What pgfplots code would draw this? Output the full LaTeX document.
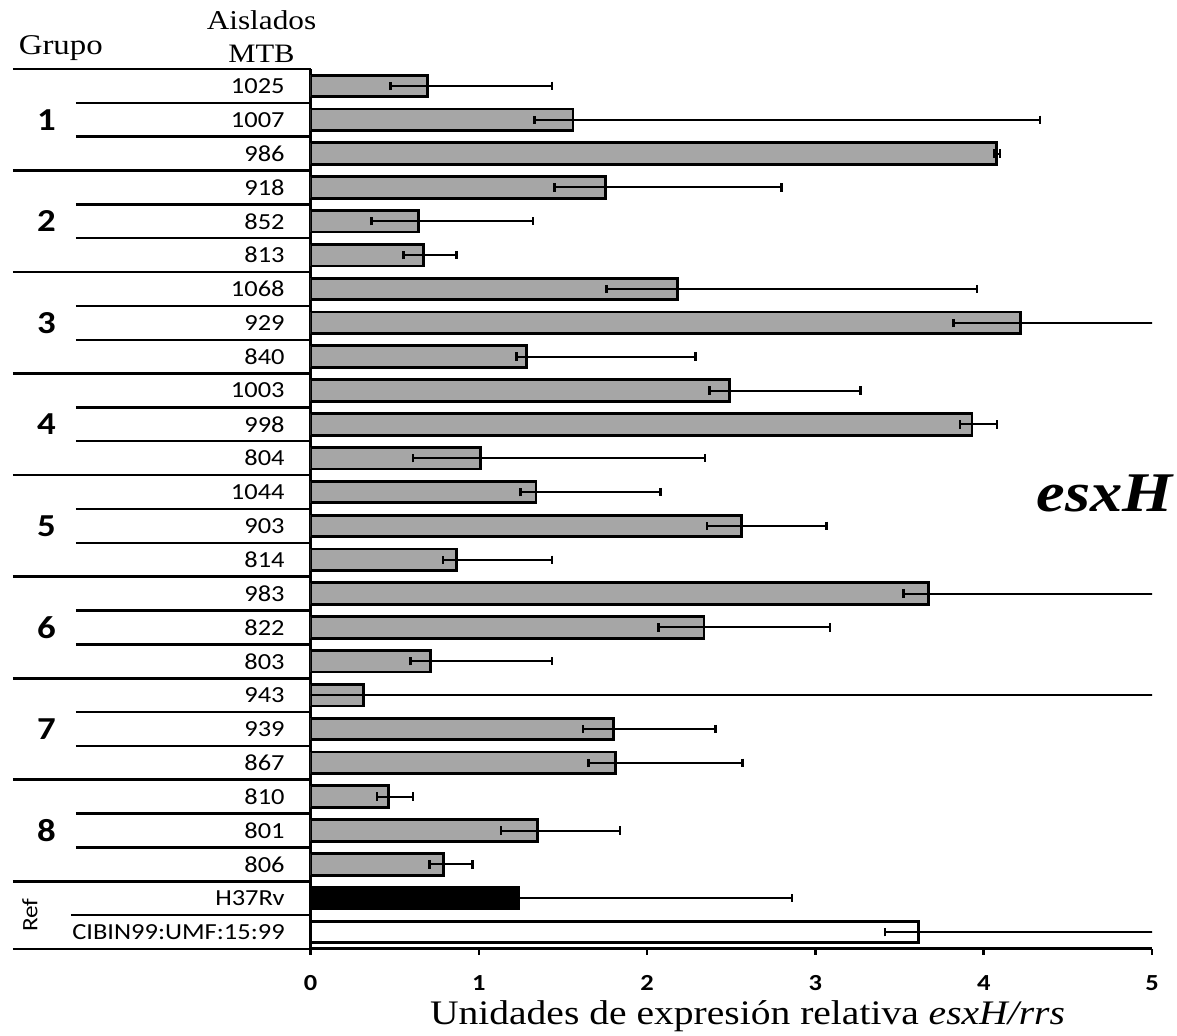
\documentclass[border=0pt]{standalone}
\usepackage{fontspec}
\setmainfont{Liberation Serif}[FakeStretch=1.15]
\newfontfamily\calfont{Carlito}[FakeStretch=1.15]
\usepackage{pgfplots}
\usepackage{pgfplotstable}
\pgfplotsset{compat=1.18}
\definecolor{barg}{HTML}{A6A6A6}

\pgfplotstableread{
y x p m
25 0.697 0.738 0.221
24 1.560 2.774 0.228
23 4.077 0.019 0.017
22 1.754 1.046 0.303
21 0.644 0.678 0.283
20 0.672 0.194 0.119
19 2.180 1.780 0.422
18 4.220 1.500 0.400
17 1.284 1.005 0.061
16 2.490 0.778 0.118
15 3.930 0.150 0.072
14 1.009 1.336 0.401
13 1.340 0.740 0.093
12 2.560 0.506 0.204
11 0.866 0.569 0.079
10 3.672 1.600 0.147
9 2.338 0.748 0.269
8 0.713 0.722 0.118
7 0.315 5.200 0.600
6 1.800 0.608 0.180
5 1.813 0.754 0.162
4 0.464 0.144 0.070
3 1.351 0.489 0.218
2 0.791 0.170 0.083
}\grupos
\pgfplotstableread{
y x p m
1 1.238 1.622 0.240
}\hrv
\pgfplotstableread{
y x p m
0 3.613 1.600 0.200
}\cibin

\def\rh{16.923}
\begin{document}
\begin{tikzpicture}
\begin{axis}[
  at={(0,0)}, anchor=south west,
  scale only axis, width=420.75pt, height=440pt,
  xmin=0, xmax=5, ymin=-0.5, ymax=25.5,
  axis x line=bottom, axis y line=left,
  axis line style={-, line width=1.5pt},
  xtick={0,1,2,3,4,5}, ytick=\empty,
  tick align=outside, major tick length=3pt,
  x tick style={line width=1.3pt, black},
  /pgf/number format/assume math mode=true,
  xticklabel style={font=\calfont\bfseries\fontsize{11.5}{13}\selectfont, anchor=base, inner sep=0pt, yshift=-18pt},
  xbar, bar width=10.8pt, bar shift=0pt,
  error bars/error mark=|,
  error bars/error bar style={line width=1pt, black, solid},
  error bars/error mark options={line width=1.3pt, mark size=2.1pt, black},
]
\addplot[fill=barg, draw=black, line width=1.4pt,
  error bars/.cd, x dir=both, x explicit]
  table[x=x, y=y, x error plus=p, x error minus=m]{\grupos};
\addplot[fill=black, draw=black, line width=1.4pt,
  error bars/.cd, x dir=both, x explicit]
  table[x=x, y=y, x error plus=p, x error minus=m]{\hrv};
\addplot[fill=white, draw=black, line width=1.4pt,
  error bars/.cd, x dir=both, x explicit]
  table[x=x, y=y, x error plus=p, x error minus=m]{\cibin};
\end{axis}

% table lines
\foreach \k in {26,23,20,17,14,11,8,5,2,0}
  \draw[line width=1.35pt] (-148.75pt,{\k*\rh pt}) -- (0pt,{\k*\rh pt});
\foreach \k in {25,24,22,21,19,18,16,15,13,12,10,9,7,6,4,3}
  \draw[line width=1.2pt] (-117.25pt,{\k*\rh pt}) -- (0pt,{\k*\rh pt});
\draw[line width=1.2pt] (-119.75pt,{\rh pt}) -- (0pt,{\rh pt});

% isolate labels
\foreach \r/\lab in {25/1025,24/1007,23/986,22/918,21/852,20/813,19/1068,18/929,17/840,16/1003,15/998,14/804,13/1044,12/903,11/814,10/983,9/822,8/803,7/943,6/939,5/867,4/810,3/801,2/806,1/H37Rv,0/CIBIN99:UMF:15:99}
  \node[anchor=east, inner sep=0pt, font=\calfont\fontsize{11.5}{13}\selectfont] at (-12.75pt,{(\r+0.5)*\rh pt}) {\lab};

% group numbers
\foreach \g in {1,...,8}
  \node[inner sep=0pt, font=\calfont\bfseries\fontsize{16}{18}\selectfont] at (-132pt,{(24.5-3*(\g-1))*\rh pt}) {\g};
\node[rotate=90, inner sep=0pt, font=\calfont\fontsize{11}{13}\selectfont] at (-140.25pt,{\rh pt}) {Ref};

% headers
\node[anchor=base, inner sep=0pt, font=\fontsize{14.3}{16}\selectfont] at (-124.85pt,447pt) {Grupo};
\node[anchor=base, inner sep=0pt, font=\fontsize{13.6}{15}\selectfont] at (-24.5pt,459.5pt) {Aislados};
\node[anchor=base, inner sep=0pt, font=\fontsize{13.3}{15}\selectfont] at (-24.5pt,443pt) {MTB};

% axis title and gene name
\node[anchor=base, inner sep=0pt, font=\fontsize{17.2}{20}\selectfont] at (218.5pt,-38pt) {Unidades de expresión relativa \textit{esxH/rrs}};
\node[anchor=base, inner sep=0pt, font=\fontsize{28}{30}\selectfont\bfseries\itshape] at (397pt,218.6pt) {esxH};

\path (-155.25pt,-43.5pt) rectangle (433.25pt,474.5pt);
\end{tikzpicture}
\end{document}
